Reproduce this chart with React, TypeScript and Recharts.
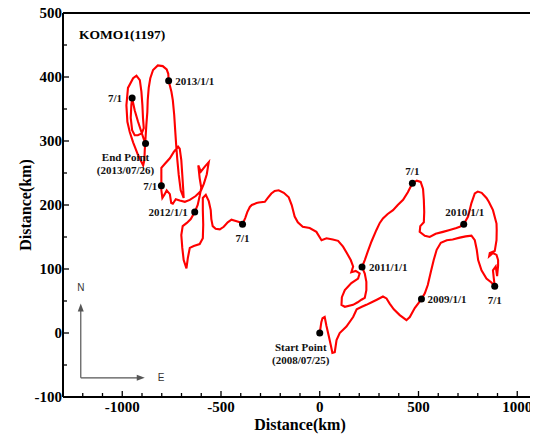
import React from 'react';
import { ComposedChart, Line, Scatter, XAxis, YAxis, ReferenceLine } from 'recharts';

type Pt = [number, number];

// Trajectory legs (km east, km north), in time order
const leg2008: Pt[] = [[0,0],[8,17],[14,23],[25,25],[34,11],[46,-5],[56,-19],[64,-31],[76,-30],[85,-11],[101,0],[135,10],[169,25],[187,37],[213,41],[236,44],[263,48],[289,52],[320,57],[338,54],[354,46],[375,37],[405,28],[439,20],[456,25],[481,39],[515,53]];
const leg2009a: Pt[] = [[515,53],[532,62],[547,75],[562,95],[577,114],[592,130],[613,141],[643,145],[673,146],[709,149],[739,151],[768,152],[785,145],[795,130],[802,114],[819,98],[844,85],[869,79],[886,73]];
const leg2009b: Pt[] = [[886,73],[881,86],[877,98],[891,104],[898,89],[903,105],[903,114],[895,122],[877,125],[858,120],[861,125],[886,128],[895,145],[896,161],[895,171],[877,192],[856,205],[844,211],[820,219],[800,221],[785,218],[768,203],[751,182],[729,170]];
const leg2010a: Pt[] = [[729,170],[709,166],[692,164],[658,161],[624,158],[587,155],[557,150],[532,152],[506,158],[509,167],[527,173],[529,189],[527,208],[523,225],[511,236],[491,238],[469,234]];
const leg2010b: Pt[] = [[469,234],[446,220],[422,208],[395,200],[371,192],[344,186],[320,179],[304,172],[287,161],[262,143],[243,127],[228,114],[214,103]];
const leg2011a: Pt[] = [[214,103],[228,93],[236,80],[236,67],[228,55],[211,52],[192,48],[169,44],[127,41],[110,44],[112,56],[127,67],[160,78],[194,85],[202,93],[182,97],[160,95],[169,104],[157,114],[137,125],[118,135],[93,144],[66,146],[34,148],[9,145],[-17,158],[-51,164],[-86,166],[-111,173],[-127,182],[-142,200],[-157,212],[-182,219],[-208,223],[-228,222],[-245,218],[-263,211],[-278,205],[-309,204],[-320,203],[-344,200],[-354,197],[-367,189],[-377,180],[-391,170]];
const leg2011b: Pt[] = [[-391,170],[-405,173],[-425,175],[-447,177],[-466,173],[-486,166],[-506,162],[-527,163],[-542,167],[-549,178],[-552,192],[-562,206],[-577,216],[-592,211],[-592,192],[-590,169],[-592,148],[-608,139],[-638,136],[-658,133],[-668,117],[-675,101],[-689,114],[-696,133],[-701,153],[-694,167],[-673,172],[-653,178],[-633,189]];
const leg2012a: Pt[] = [[-633,189],[-618,200],[-608,214],[-600,227],[-608,242],[-615,262],[-602,252],[-582,260],[-562,267],[-572,248],[-587,233],[-602,222],[-628,214],[-658,208],[-683,205],[-709,207],[-729,209],[-744,202],[-752,203],[-759,217],[-775,223],[-785,217],[-797,211],[-802,223],[-802,230]];
const leg2012b: Pt[] = [[-802,230],[-802,245],[-802,258],[-785,264],[-759,273],[-739,283],[-717,291],[-709,288],[-701,270],[-696,247],[-691,223],[-689,211],[-704,223],[-714,247],[-721,270],[-727,294],[-732,317],[-737,341],[-744,364],[-751,377],[-765,394]];
const leg2013a: Pt[] = [[-765,394],[-767,405],[-775,412],[-795,417],[-820,418],[-844,411],[-858,398],[-866,383],[-871,364],[-873,345],[-878,325],[-882,305],[-886,286],[-888,270],[-894,262],[-920,278],[-945,298],[-962,314],[-974,330],[-979,356],[-971,383],[-945,398],[-928,402],[-911,395],[-903,377],[-898,356],[-895,336],[-891,320],[-901,312],[-921,309],[-937,309],[-950,317],[-957,336],[-954,356],[-950,367]];
const leg2013b: Pt[] = [[-950,367],[-937,348],[-920,330],[-903,314],[-891,303],[-882,296]];

// Marked dates
const markLabels = ['Start Point|(2008/07/25)', '2009/1/1', '7/1', '2010/1/1', '7/1', '2011/1/1', '7/1', '2012/1/1', '7/1', '2013/1/1', '7/1', 'End Point|(2013/07/26)'];
const markX = [0, 515, 886, 729, 469, 214, -391, -633, -802, -765, -950, -882];
const markY = [0, 53, 73, 170, 234, 103, 170, 189, 230, 394, 367, 296];

// Axis ticks
const xTicks = [-1200, -1100, -1000, -900, -800, -700, -600, -500, -400, -300, -200, -100, 0, 100, 200, 300, 400, 500, 600, 700, 800, 900, 1000, 1100];
const xTickLabels = [-1000, -500, 0, 500, 1000];
const yTicks = [-100, -50, 0, 50, 100, 150, 200, 250, 300, 350, 400, 450, 500];
const yTickLabels = [-100, 0, 100, 200, 300, 400, 500];

// Compass annotation (km)
const compassOrigin = { x: -1210, y: -70 };
const compassNorthTip = { x: -1210, y: 46 };
const compassEastTip = { x: -886, y: -70 };

const title = 'KOMO1(1197)';
const axisTitle = 'Distance(km)';

const SERIF = '"Liberation Serif", "Times New Roman", serif';
const SANS = '"Liberation Sans", Arial, sans-serif';

// label styles (anchor, dx, dy per line)
const labelStyle: { anchor: 'start' | 'middle' | 'end'; dx: number; dy: number[] }[] = [
  { anchor: 'middle', dx: -19, dy: [17.5, 31] },
  { anchor: 'start', dx: 6, dy: [4] },
  { anchor: 'middle', dx: 0, dy: [18] },
  { anchor: 'middle', dx: 1, dy: [-8.5] },
  { anchor: 'middle', dx: 0, dy: [-8.5] },
  { anchor: 'start', dx: 7, dy: [4] },
  { anchor: 'middle', dx: 0, dy: [17.5] },
  { anchor: 'end', dx: -7, dy: [4] },
  { anchor: 'end', dx: -4, dy: [4] },
  { anchor: 'start', dx: 6.5, dy: [4] },
  { anchor: 'end', dx: -10, dy: [4] },
  { anchor: 'middle', dx: -20, dy: [17, 30] },
];

const track = [leg2008, leg2009a, leg2009b, leg2010a, leg2010b, leg2011a, leg2011b, leg2012a, leg2012b, leg2013a, leg2013b]
  .flat()
  .map(([x, y]) => ({ x, y }));
const marks = markX.map((x, i) => ({ x, y: markY[i], idx: i }));

const BottomTick = (props: any) => {
  const { x, y, payload } = props;
  const major = xTickLabels.includes(payload.value);
  return (
    <g>
      <line x1={x} x2={x} y1={y} y2={y - (major ? 6 : 4)} stroke="#000" strokeWidth={1.3} />
      {major && (
        <text x={x} y={y + 15} textAnchor="middle" fontFamily={SERIF} fontWeight="bold" fontSize={15} fill="#000">
          {payload.value}
        </text>
      )}
    </g>
  );
};

const TopTick = (props: any) => {
  const { x, y, payload } = props;
  const major = xTickLabels.includes(payload.value);
  return <line x1={x} x2={x} y1={y} y2={y + (major ? 6 : 4)} stroke="#000" strokeWidth={1.3} />;
};

const LeftTick = (props: any) => {
  const { x, y, payload } = props;
  const major = yTickLabels.includes(payload.value);
  return (
    <g>
      <line x1={x} x2={x + (major ? 6 : 4)} y1={y} y2={y} stroke="#000" strokeWidth={1.3} />
      {major && (
        <text x={x - 1} y={y + 5} textAnchor="end" fontFamily={SERIF} fontWeight="bold" fontSize={15} fill="#000">
          {payload.value}
        </text>
      )}
    </g>
  );
};

const RightTick = (props: any) => {
  const { x, y, payload } = props;
  const major = yTickLabels.includes(payload.value);
  return <line x1={x} x2={x - (major ? 6 : 4)} y1={y} y2={y} stroke="#000" strokeWidth={1.3} />;
};

const MarkShape = (props: any) => {
  const { cx, cy, payload } = props;
  const i = payload.idx;
  const st = labelStyle[i];
  const lines = markLabels[i].split('|');
  return (
    <g>
      <circle cx={cx} cy={cy} r={3.5} fill="#000" />
      {lines.map((t, k) => (
        <text key={k} x={cx + st.dx} y={cy + st.dy[k]} textAnchor={st.anchor} fontFamily={SERIF} fontWeight="bold" fontSize={11} fill="#111">
          {t}
        </text>
      ))}
    </g>
  );
};

const NorthArrow = (p: any) => {
  const { x1, y1, x2, y2 } = p;
  return (
    <g>
      <line x1={x1} y1={y1} x2={x2} y2={y2 + 4} stroke="#555" strokeWidth={1.2} />
      <polygon points={`${x2},${y2} ${x2 - 3},${y2 + 8} ${x2 + 3},${y2 + 8}`} fill="#555" />
      <text x={x2} y={y2 - 12.5} textAnchor="middle" fontFamily={SANS} fontSize={10} fill="#333">N</text>
    </g>
  );
};

const EastArrow = (p: any) => {
  const { x1, y1, x2, y2 } = p;
  return (
    <g>
      <line x1={x1} y1={y1} x2={x2 - 4} y2={y2} stroke="#555" strokeWidth={1.2} />
      <polygon points={`${x2},${y2} ${x2 - 8},${y2 - 3} ${x2 - 8},${y2 + 3}`} fill="#555" />
      <text x={x2 + 13} y={y2 + 3.5} textAnchor="start" fontFamily={SANS} fontSize={10} fill="#333">E</text>
    </g>
  );
};

export default function App() {
  const W = 530;
  const H = 437;
  return (
    <div style={{ position: 'relative', width: W, height: H, marginTop: -8 }}>
      <ComposedChart width={W} height={H} margin={{ top: 12, right: 0, bottom: 0, left: 0 }}>
        <XAxis
          xAxisId={0}
          type="number"
          dataKey="x"
          domain={[-1300, 1100]}
          allowDataOverflow
          ticks={xTicks}
          interval={0}
          tickSize={0}
          tickMargin={0}
          tickLine={false}
          tick={<BottomTick />}
          axisLine={{ stroke: '#000', strokeWidth: 2 }}
          height={40}
          label={{ value: axisTitle, position: 'insideBottom', offset: 7, fontFamily: SERIF, fontWeight: 'bold', fontSize: 16, fill: '#000' }}
        />
        <XAxis
          xAxisId="top"
          orientation="top"
          type="number"
          domain={[-1300, 1100]}
          allowDataOverflow
          ticks={xTicks}
          interval={0}
          tickSize={0}
          tickMargin={0}
          tickLine={false}
          tick={<TopTick />}
          axisLine={{ stroke: '#000', strokeWidth: 2 }}
          height={1}
        />
        <YAxis
          yAxisId={0}
          type="number"
          dataKey="y"
          domain={[-100, 500]}
          allowDataOverflow
          ticks={yTicks}
          interval={0}
          tickSize={0}
          tickMargin={0}
          tickLine={false}
          tick={<LeftTick />}
          axisLine={{ stroke: '#000', strokeWidth: 2 }}
          width={55}
          label={{ value: axisTitle, angle: -90, position: 'insideLeft', offset: 17, textAnchor: 'middle', fontFamily: SERIF, fontWeight: 'bold', fontSize: 16, fill: '#000' }}
        />
        <YAxis
          yAxisId="right"
          orientation="right"
          type="number"
          domain={[-100, 500]}
          allowDataOverflow
          ticks={yTicks}
          interval={0}
          tickSize={0}
          tickMargin={0}
          tickLine={false}
          tick={<RightTick />}
          axisLine={{ stroke: '#000', strokeWidth: 2 }}
          width={1}
        />
        <ReferenceLine
          xAxisId={0}
          yAxisId={0}
          segment={[compassOrigin, compassNorthTip]}
          stroke="#555"
          shape={NorthArrow}
        />
        <ReferenceLine
          xAxisId={0}
          yAxisId={0}
          segment={[compassOrigin, compassEastTip]}
          stroke="#555"
          shape={EastArrow}
        />
        <Line
          xAxisId={0}
          yAxisId={0}
          data={track}
          dataKey="y"
          type="linear"
          stroke="#ff0000"
          strokeWidth={2.1}
          dot={false}
          activeDot={false}
          isAnimationActive={false}
        />
        <Scatter
          xAxisId={0}
          yAxisId={0}
          data={marks}
          dataKey="y"
          shape={MarkShape}
          isAnimationActive={false}
        />
      </ComposedChart>
      <svg width={W} height={H} style={{ position: 'absolute', left: 0, top: 0, pointerEvents: 'none' }}>
        <text x={71} y={38.5} fontFamily={SERIF} fontWeight="bold" fontSize={13.5} fill="#000">{title}</text>
      </svg>
    </div>
  );
}
